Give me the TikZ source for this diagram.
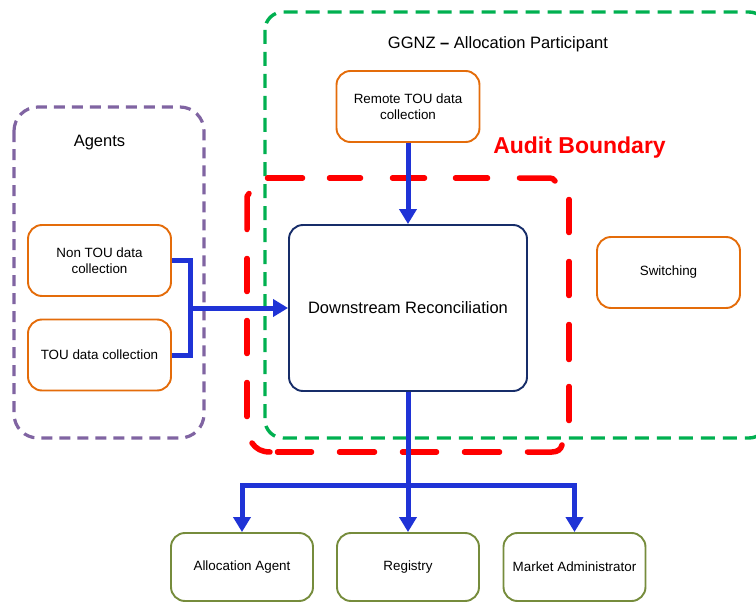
\documentclass[tikz,border=0pt]{standalone}
\usepackage{fontspec}
\setmainfont{Liberation Sans}
\usetikzlibrary{arrows.meta}
\definecolor{boxorange}{RGB}{228,108,10}
\definecolor{boxnavy}{RGB}{23,45,105}
\definecolor{boxolive}{RGB}{118,140,60}
\definecolor{bgreen}{RGB}{0,176,80}
\definecolor{bpurple}{RGB}{128,100,162}
\definecolor{bred}{RGB}{255,0,0}
\definecolor{flowblue}{RGB}{31,51,214}
\tikzset{
  x=1pt, y=-1pt,
  box/.style={draw, rounded corners=14pt, line width=1.9pt, fill=white, inner sep=0pt,
    align=center, font=\fontsize{13.4}{16}\selectfont, text=black},
  obox/.style={box, draw=boxorange, minimum width=143pt, minimum height=71pt},
  gbox/.style={box, draw=boxolive, minimum width=142pt, minimum height=68pt},
  nbox/.style={box, draw=boxnavy, minimum width=238pt, minimum height=166pt,
    font=\fontsize{16.5}{19}\selectfont},
  greenb/.style={draw=bgreen, line width=3.4pt, dash pattern=on 14pt off 8pt, rounded corners=18pt},
  purpleb/.style={draw=bpurple, line width=3.2pt, dash pattern=on 11pt off 7pt, rounded corners=24pt},
  redb/.style={draw=bred, line width=5.5pt, line cap=round},
  wire/.style={draw=flowblue, line width=5pt, line join=miter},
  flow/.style={wire, -{Triangle[length=15pt, width=17pt]}},
  lbl/.style={font=\fontsize{16.5}{19}\selectfont, inner sep=0pt},
}
\begin{document}
\begin{tikzpicture}
\useasboundingbox (0,0) rectangle (756,602);
\clip (0,0) rectangle (756,602);

% boundaries
\draw[greenb] (265,12) rectangle (767,438);
\draw[purpleb] (14,107) rectangle (204,438);

% audit boundary (hand drawn, dashed)
\draw[redb] (267.5,178) -- (302.5,178);
\draw[redb] (329.5,178) -- (360.5,178);
\draw[redb] (392.5,178) -- (424.5,178);
\draw[redb] (455.5,178) -- (487.5,178);
\draw[redb] (519.5,178) -- (548,178) .. controls (552,178) and (554,179) .. (555,181);
\draw[redb] (569,199.5) -- (569,232.5);
\draw[redb] (569,261.5) -- (569,295.5);
\draw[redb] (569,324.5) -- (569,359.5);
\draw[redb] (569,386.5) -- (569,420.5);
\draw[redb] (247,229.5) -- (247,199) .. controls (247,196) .. (249,193.5);
\draw[redb] (247,258.5) -- (247,291.5);
\draw[redb] (247,320.5) -- (247,353.5);
\draw[redb] (247,382.5) -- (247,416.5);
\draw[redb] (252,443) .. controls (256,449) and (262,452) .. (270,452);
\draw[redb] (277.5,452) -- (311.5,452);
\draw[redb] (339.5,452) -- (374.5,452);
\draw[redb] (402.5,452) -- (436.5,452);
\draw[redb] (464.5,452) -- (499.5,452);
\draw[redb] (527.5,452) -- (552,452) .. controls (558,452) and (561,449) .. (562,445);

% labels
\node[lbl] (ggnz) at (498,44) {GGNZ {\bfseries –} Allocation Participant};
\node[lbl] (agents) at (99.5,143) {Agents};
\node[lbl, text=bred, font=\fontsize{23}{26}\selectfont\bfseries] (audit) at (579.5,148) {Audit Boundary};

% boxes
\node[obox] (remote) at (408,106.5) {Remote TOU data\\collection};
\node[obox] (nontou) at (99.5,260.5) {Non TOU data\\collection};
\node[obox] (tou) at (99.5,355) {TOU data collection};
\node[obox] (switch) at (668.5,272.5) {Switching};
\node[nbox] (dr) at (408,308) {Downstream Reconciliation};
\node[gbox] (aa) at (242,567) {Allocation Agent};
\node[gbox] (reg) at (408,567) {Registry};
\node[gbox] (ma) at (574.5,567) {Market Administrator};

% connectors
\coordinate (jl) at (190,308);
\coordinate (bus) at (408,485);
\draw[flow] (remote.south) -- (dr.north);
\draw[wire] (nontou.east) -| (jl) |- (tou.east);
\draw[flow] (jl) -- (dr.west);
\draw[wire] (dr.south) -- (bus);
\draw[flow] (bus) -- (reg.north);
\draw[flow] (bus) -| (aa.north);
\draw[flow] (bus) -| (ma.north);
\end{tikzpicture}
\end{document}
